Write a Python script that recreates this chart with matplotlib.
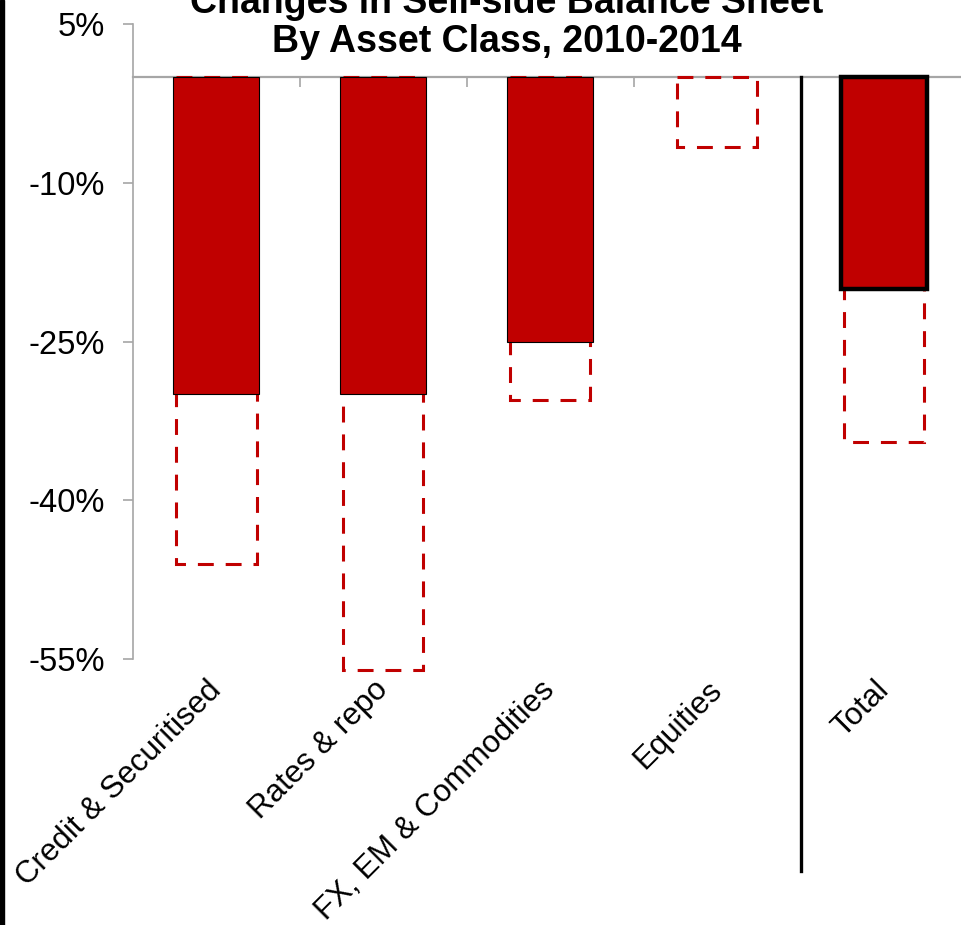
import matplotlib
matplotlib.use("Agg")
import matplotlib.pyplot as plt
from matplotlib.patches import Rectangle
import numpy as np

plt.rcParams["font.family"] = ["Liberation Sans", "DejaVu Sans"]

# Datos (% de cambio 2010-2014)
categorias = ["Credit & Securitised", "Rates & repo", "FX, EM & Commodities",
              "Equities", "Total"]
cambio_solido = [-30.0, -30.0, -25.0, 0.0, -20.0]
cambio_rango = [-46.0, -56.0, -30.5, -6.6, -34.5]
ticks_y = [5, -10, -25, -40, -55]

titulo = ["Changes in Sell-side Balance Sheet", "By Asset Class, 2010-2014"]

ROJO = "#C00000"
GRIS = "#A6A6A6"

fig = plt.figure(figsize=(9.61, 9.25), dpi=100)
ax = fig.add_axes([133 / 961, 266 / 925, 828 / 961, 635 / 925])

x = np.arange(len(categorias))

# rango (contorno discontinuo) detrás de las barras sólidas
ax.bar(x, cambio_rango, width=0.48, facecolor="none", edgecolor=ROJO,
       linewidth=2.2, linestyle=(0, (5.2, 3.9)), zorder=2, clip_on=False)

anchos_borde = [0.8] * (len(categorias) - 1) + [3.2]
for xi, v, lw in zip(x, cambio_solido, anchos_borde):
    if v == 0:
        continue
    ax.bar(xi, v, width=0.515, facecolor=ROJO, edgecolor="black",
           linewidth=lw, zorder=3)

# separador antes del total
ax.plot([len(categorias) - 1.5] * 2, [0, -75], color="black", lw=2.4,
        clip_on=False, zorder=4)

ax.set_xlim(-0.5, 4.46)
ax.set_ylim(-55, 5)

ax.set_yticks(ticks_y)
ax.set_yticklabels([f"{t}%" for t in ticks_y])
ax.tick_params(axis="y", length=7, width=1.2, color=GRIS, pad=13,
               labelsize=23.5)

ax.set_xticks(x)
ax.set_xticklabels(categorias, rotation=45, ha="right", va="center",
                   rotation_mode="anchor")
ax.tick_params(axis="x", length=0, pad=19, labelsize=22.5)

for lado in ["top", "right", "bottom"]:
    ax.spines[lado].set_visible(False)
ax.spines["left"].set_color(GRIS)
ax.spines["left"].set_linewidth(1.2)

# línea de cero con marcas entre categorías
eje_cero = ax.secondary_xaxis(0, transform=ax.transData)
eje_cero.set_xticks(x[:-1] + 0.5)
eje_cero.tick_params(length=7, width=1.2, color=GRIS, labelbottom=False)
eje_cero.spines["bottom"].set_color(GRIS)
eje_cero.spines["bottom"].set_linewidth(1.6)

fig.text(507 / 961, 1 - 13 / 925, titulo[0], ha="center", va="baseline",
         fontsize=27, fontweight="bold")
fig.text(507 / 961, 1 - 52 / 925, titulo[1], ha="center", va="baseline",
         fontsize=27, fontweight="bold")

fig.add_artist(Rectangle((0, 0), 3.5 / 961, 1, transform=fig.transFigure,
                         color="black"))

fig.savefig("out.png", dpi=100)
